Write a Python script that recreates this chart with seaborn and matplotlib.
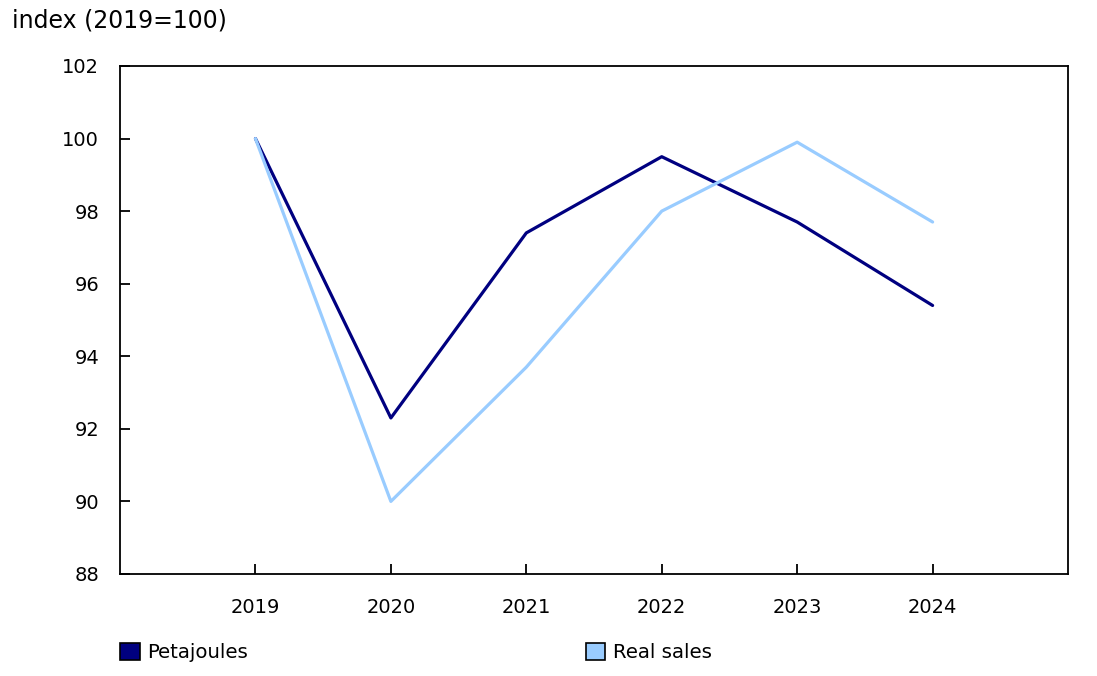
import pandas as pd
import seaborn as sns
import matplotlib.pyplot as plt
from matplotlib.patches import Patch

# Data
years = [2019, 2020, 2021, 2022, 2023, 2024]
petajoules = [100.0, 92.3, 97.4, 99.5, 97.7, 95.4]
real_sales = [100.0, 90.0, 93.7, 98.0, 99.9, 97.7]
series_names = ["Petajoules", "Real sales"]
colors = ["#000080", "#99ccff"]
y_ticks = [88, 90, 92, 94, 96, 98, 100, 102]

df = pd.DataFrame({
    "year": years * 2,
    "value": petajoules + real_sales,
    "series": [series_names[0]] * len(years) + [series_names[1]] * len(years),
})

sns.set_style("white")
plt.rcParams["font.family"] = ["DejaVu Sans"]
plt.rcParams["text.color"] = "black"
plt.rcParams["xtick.color"] = "black"
plt.rcParams["ytick.color"] = "black"

fig = plt.figure(figsize=(10.97, 6.76), dpi=100)
ax = fig.add_axes([0.1094, 0.1509, 0.8642, 0.7515])

sns.lineplot(
    data=df,
    x="year",
    y="value",
    hue="series",
    palette=colors,
    linewidth=2.3,
    legend=False,
    ax=ax
)

ax.set_xlim(2018, 2025)
ax.set_ylim(88, 102)
ax.set_xticks(years)
ax.set_yticks(y_ticks)
ax.set_xlabel("")
ax.set_ylabel("")
ax.tick_params(direction="in", length=7, width=1.3, colors="black",
               labelsize=14, bottom=True, left=True)
ax.tick_params(axis="y", pad=15)
ax.tick_params(axis="x", pad=17)
for s in ax.spines.values():
    s.set_visible(True)
    s.set_color("black")
    s.set_linewidth(1.3)

fig.text(0.011, 0.97, "index (2019=100)", fontsize=17, va="center", ha="left")

handles = [Patch(facecolor=c, edgecolor="black", linewidth=1.2) for c in colors]
ax.legend(
    handles, series_names,
    loc="center left",
    bbox_to_anchor=(0.1094, 0.035),
    bbox_transform=fig.transFigure,
    ncol=2,
    frameon=False,
    fontsize=14.2,
    handlelength=1.0,
    handleheight=1.0,
    handletextpad=0.4,
    columnspacing=17.1,
    borderaxespad=0,
    borderpad=0,
)

fig.savefig("out.png", dpi=100)
